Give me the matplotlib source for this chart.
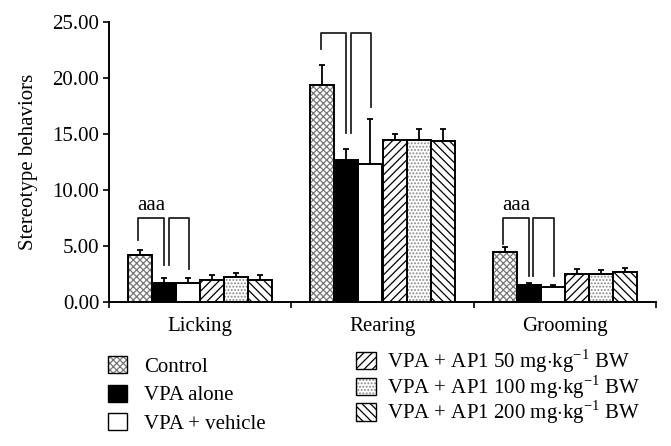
import numpy as np
import matplotlib
matplotlib.use('Agg')
import matplotlib.pyplot as plt
from matplotlib.patches import Patch

plt.rcParams['font.family'] = ['Liberation Serif', 'DejaVu Serif']
plt.rcParams['mathtext.fontset'] = 'custom'
plt.rcParams['mathtext.rm'] = 'Liberation Serif'
plt.rcParams['hatch.linewidth'] = 0.9

# data
behaviors = ['Licking', 'Rearing', 'Grooming']
groups = ['Control', 'VPA alone', 'VPA + vehicle',
          r'VPA + AP1 50 mg$\cdot$kg$^{-1}$ BW',
          r'VPA + AP1 100 mg$\cdot$kg$^{-1}$ BW',
          r'VPA + AP1 200 mg$\cdot$kg$^{-1}$ BW']
means = {
    'Control':   [4.2, 19.35, 4.5],
    'VPA alone': [1.7, 12.65, 1.5],
    'Vehicle':   [1.7, 12.3, 1.35],
    'AP1 50':    [2.0, 14.5, 2.5],
    'AP1 100':   [2.2, 14.5, 2.47],
    'AP1 200':   [2.0, 14.35, 2.65],
}
errors = {
    'Control':   [0.45, 1.85, 0.45],
    'VPA alone': [0.4, 1.05, 0.2],
    'Vehicle':   [0.4, 4.05, 0.2],
    'AP1 50':    [0.45, 0.5, 0.47],
    'AP1 100':   [0.35, 0.95, 0.43],
    'AP1 200':   [0.4, 1.1, 0.35],
}
# significance brackets: top height and bottoms of the 4 legs
bracket_top = [7.5, 24.0, 7.5]
leg_bottoms = [[5.5, 3.3, 3.3, 2.95],
               [22.6, 15.05, 15.05, 17.4],
               [5.2, 2.3, 2.3, 2.3]]
sig_labels = ['aaa', '', 'aaa']

styles = [('xxxxx', 'white', '#777777'),
          ('', 'black', 'black'),
          ('', 'white', 'black'),
          ('////', 'white', 'black'),
          ('.....', 'white', '#888888'),
          ('\\\\\\\\', 'white', 'black')]

fs = 15
fig = plt.figure(figsize=(6.71, 4.46), dpi=100)
ax = fig.add_axes([109/671, 1 - 302/446, 547/671, 280/446])

w = 24/182
off = 19/182
keys = list(means.keys())
handles = []
centers = []
for i, k in enumerate(keys):
    hatch, fc, hc = styles[i]
    x = np.arange(3) + off + w*(i + 0.5)
    centers.append(x)
    ax.errorbar(x, means[k], yerr=[np.zeros(3), errors[k]], fmt='none',
                ecolor='black', elinewidth=1.3, capsize=2.5, capthick=1.3, zorder=1)
    ax.bar(x, means[k], w, color=fc, hatch=hatch, edgecolor=hc, linewidth=0, zorder=2)
    ax.bar(x, means[k], w, fill=False, edgecolor='black', linewidth=1.4, zorder=3)
    handles.append((Patch(facecolor=fc, hatch=hatch, edgecolor=hc, linewidth=0),
                    Patch(fill=False, edgecolor='black', linewidth=1.0)))

# brackets
leg_off = [-0.01, 0.0, 0.025, 0.005]
for g in range(3):
    xs = [centers[0][g] + leg_off[0], centers[1][g] + leg_off[1],
          centers[1][g] + leg_off[2], centers[2][g] + leg_off[3]]
    b = leg_bottoms[g]
    t = bracket_top[g]
    ax.plot([xs[0], xs[0], xs[1], xs[1]], [b[0], t, t, b[1]], color='#222222', lw=1.3,
            clip_on=False, zorder=4)
    ax.plot([xs[2], xs[2], xs[3], xs[3]], [b[2], t, t, b[3]], color='#222222', lw=1.3,
            clip_on=False, zorder=4)
    if sig_labels[g]:
        ax.text((xs[0] + xs[1]) / 2, t + 1.1, sig_labels[g], ha='center', va='center',
                fontsize=fs)

ax.set_xlim(0, 3)
ax.set_ylim(0, 25)
ax.set_yticks(np.arange(0, 26, 5))
ax.set_yticklabels(['%.2f' % v for v in np.arange(0, 26, 5)], fontsize=fs)
ax.set_xticks([0, 1, 2, 3])
ax.set_xticklabels([])
ax.set_xticks([0.5, 1.5, 2.5], minor=True)
ax.set_xticklabels(behaviors, minor=True, fontsize=fs)
ax.tick_params(axis='x', which='minor', length=0, pad=11)
ax.tick_params(axis='x', which='major', length=4, width=1.2, direction='out')
ax.tick_params(axis='y', length=4, width=1.2, direction='out', pad=3)
for s in ['top', 'right']:
    ax.spines[s].set_visible(False)
for s in ['left', 'bottom']:
    ax.spines[s].set_linewidth(1.4)
ax.set_ylabel('Stereotype behaviors', fontsize=fs)
ax.yaxis.set_label_coords(-0.13, 0.5)

leg1 = fig.legend(handles[:3], groups[:3], loc='upper left',
                  bbox_to_anchor=(108/671, 1 - 356/446), frameon=False, fontsize=fs,
                  handlelength=0.9, handleheight=0.9, handletextpad=0.85,
                  labelspacing=0.37, borderpad=0, borderaxespad=0)
leg2 = fig.legend(handles[3:], groups[3:], loc='upper left',
                  bbox_to_anchor=(356/671, 1 - 347/446), frameon=False, fontsize=fs,
                  handlelength=0.95, handleheight=0.9, handletextpad=0.55,
                  labelspacing=-0.08, borderpad=0, borderaxespad=0)

fig.savefig('out.png', dpi=100)
